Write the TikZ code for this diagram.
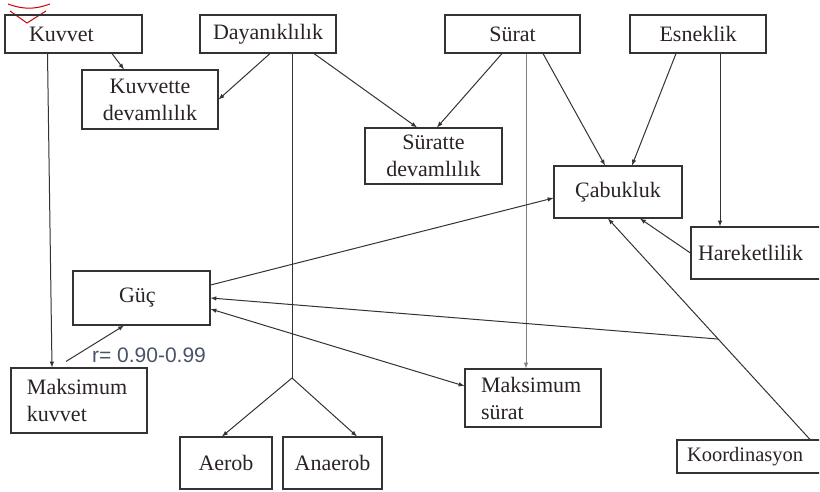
\documentclass[tikz,border=0pt]{standalone}
\usepackage{fontspec}
\setmainfont{Liberation Serif}
\newfontfamily\labelfont{Liberation Sans}
\usetikzlibrary{positioning, arrows, calc}
\definecolor{linegray}{HTML}{333333}
\definecolor{inkdark}{HTML}{2A2228}
\definecolor{labelblue}{HTML}{4A5468}

\begin{document}
\begin{tikzpicture}[x=1pt, y=-1pt, >=latex,
  box/.style={draw=linegray, line width=1.1pt, inner sep=0pt, align=center, text=inkdark, font=\fontsize{22}{27}\selectfont},
  leftbox/.style={box, align=left, inner xsep=16pt, text width=104pt},
  link/.style={->, draw=linegray, line width=1pt}]
 \useasboundingbox (0,0) rectangle (820,491);
 \clip (0,0) rectangle (819,491);

 % logo remnant
 \draw[red!80!black, line width=1pt] (8,4) to[bend right=20] (50,4);
 \draw[red!80!black, line width=1pt] (10,11) -- (27,23) -- (46,11);

 % top row
 \node[box, align=left, inner xsep=24pt, text width=89pt, minimum height=38pt] (kuvvet) at (73.5,34) {Kuvvet};
 \node[box, minimum width=136pt, minimum height=38pt] (dayan) at (268,34) {Dayanıklılık};
 \node[box, minimum width=135pt, minimum height=38pt] (surat) at (512.5,34) {Sürat};
 \node[box, minimum width=136pt, minimum height=38pt] (esnek) at (698,34) {Esneklik};

 % middle
 \node[box, minimum width=136pt, minimum height=59pt] (kdevam) at (150,99.5) {Kuvvette\\devamlılık};
 \node[box, minimum width=137pt, minimum height=56pt] (sdevam) at (433.5,156) {Süratte\\devamlılık};
 \node[box, minimum width=128pt, minimum height=52pt] (cabuk) at (618,192) {Çabukluk};
 \node[box, align=left, inner xsep=7pt, text width=155pt, minimum height=52pt] (hareket) at (775.5,253) {Hareketlilik};
 \node[box, align=left, inner xsep=46pt, text width=45pt, minimum height=54pt] (guc) at (141.5,298) {Güç};

 % bottom
 \node[leftbox, minimum height=65pt] (mkuvvet) at (79,400.5) {Maksimum\\kuvvet};
 \node[leftbox, minimum height=58pt] (msurat) at (533,398) {Maksimum\\sürat};
 \node[box, minimum width=92pt, minimum height=52pt] (aerob) at (226,463) {Aerob};
 \node[box, minimum width=99pt, minimum height=52pt] (anaerob) at (332.5,463) {Anaerob};
 \node[box, align=left, inner xsep=10pt, text width=163pt, minimum height=33pt, font=\fontsize{20.5}{24}\selectfont] (koord) at (768.5,456.5) {Koordinasyon};

 \node[text=labelblue, font=\labelfont\fontsize{21}{24}\selectfont] (rlabel) at (149,355) {r= 0.90-0.99};

 % connectors
 \draw[link] ([xshift=-26pt]kuvvet.south) -- ([xshift=-27pt]mkuvvet.north);
 \draw[link] ([xshift=38.5pt]kuvvet.south) -- ([xshift=-26pt]kdevam.north);
 \draw[link] ([xshift=2pt]dayan.south) -- (kdevam.east);
 \draw[link] ([xshift=46pt]dayan.south) -- ([xshift=-16.5pt]sdevam.north);
 \coordinate (split) at (292,378);
 \draw[linegray, line width=1pt] ([xshift=24pt]dayan.south) -- (split);
 \draw[link] (split) -- ([xshift=-4pt]aerob.north);
 \draw[link] (split) -- ([xshift=24.5pt]anaerob.north);
 \draw[link] ([xshift=-10.5pt]surat.south) -- ([xshift=3.5pt]sdevam.north);
 \draw[link, draw=gray] ([xshift=13.5pt]surat.south) -- ([xshift=-7pt]msurat.north);
 \draw[link] ([xshift=30.5pt]surat.south) -- ([xshift=-13pt]cabuk.north);
 \draw[link] ([xshift=-22pt]esnek.south) -- ([xshift=14pt]cabuk.north);
 \draw[link] ([xshift=22pt]esnek.south) -- ([xshift=-55.5pt]hareket.north);
 \draw[link] (hareket.west) -- ([xshift=22pt]cabuk.south);
 \draw[link] ([xshift=41.5pt]koord.north) -- ([xshift=-10pt]cabuk.south);
 \coordinate (kjoin) at ($([xshift=41.5pt]koord.north)!0.4545!([xshift=-10pt]cabuk.south)$);
 \draw[link] (kjoin) -- (guc.east);
 \draw[link] ([yshift=13pt]guc.east) -- ([yshift=-6pt]cabuk.west);
 \draw[link, <->] ([yshift=-11pt]guc.east) -- ([yshift=12pt]msurat.west);
 \draw[link] ([shift={(-13pt,6pt)}]mkuvvet.north) -- ([xshift=-17.5pt]guc.south);
\end{tikzpicture}
\end{document}
